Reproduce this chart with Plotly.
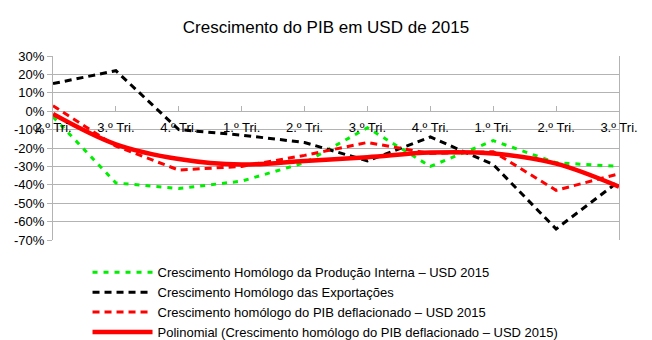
import plotly.graph_objects as go

categories = ["2.º Tri.", "3.º Tri.", "4.º Tri.", "1.º Tri.", "2.º Tri.",
              "3.º Tri.", "4.º Tri.", "1.º Tri.", "2.º Tri.", "3.º Tri."]

producao_interna = [-3, -39, -42, -38, -28, -9, -30, -16, -28, -30]
exportacoes = [15, 22, -10, -13, -17, -27, -14, -29, -64, -38]
pib_deflacionado = [3, -19, -32, -30, -24, -17, -23, -22, -43, -34]
polinomial = [-1.5, -18, -26, -29, -27, -25, -22.5, -23, -28.5, -41]

names = [
    "Crescimento Homólogo da Produção Interna – USD 2015",
    "Crescimento Homólogo das Exportações",
    "Crescimento homólogo do PIB deflacionado – USD 2015",
    "Polinomial (Crescimento homólogo do PIB deflacionado – USD 2015)",
]

y_ticks = [30, 20, 10, 0, -10, -20, -30, -40, -50, -60, -70]
y_min, y_max = -70, 30

x = list(range(len(categories)))

fig = go.Figure()
fig.add_trace(go.Scatter(x=x, y=producao_interna, mode="lines", name=names[0],
                         line=dict(color="#00ee00", width=3, dash="5px,6px")))
fig.add_trace(go.Scatter(x=x, y=exportacoes, mode="lines", name=names[1],
                         line=dict(color="#000000", width=3, dash="7px,5px")))
fig.add_trace(go.Scatter(x=x, y=pib_deflacionado, mode="lines", name=names[2],
                         line=dict(color="#ff0000", width=3, dash="7px,5px")))
fig.add_trace(go.Scatter(x=x, y=polinomial, mode="lines", name=names[3],
                         line=dict(color="#ff0000", width=4.5, shape="spline", smoothing=1)))

font = "Liberation Sans, Arial, sans-serif"
zero_pos = (0 - y_min) / (y_max - y_min)

fig.update_layout(
    width=652, height=340,
    margin=dict(l=53, r=33, t=56, b=100, autoexpand=False),
    paper_bgcolor="white", plot_bgcolor="white",
    font=dict(family=font, size=13, color="#000000"),
    title=dict(text="Crescimento do PIB em USD de 2015", x=0.5, xanchor="center",
               y=1 - 27 / 340, yanchor="middle", font=dict(size=17, family=font)),
    showlegend=True,
    legend=dict(x=0.061, y=-0.094, xanchor="left", yanchor="top",
                orientation="v", itemwidth=60, font=dict(size=13, family=font),
                tracegroupgap=0, bgcolor="rgba(0,0,0,0)"),
    xaxis=dict(
        range=[0, len(categories) - 1], tickvals=x, ticktext=categories,
        showgrid=False, zeroline=False, showline=False,
        anchor="free", position=zero_pos,
        ticks="inside", ticklen=5, tickcolor="#b3b3b3",
        ticklabelstandoff=7,
        tickfont=dict(size=13, family=font),
    ),
    yaxis=dict(
        range=[y_min, y_max], tickvals=y_ticks,
        ticktext=[f"{v}%" for v in y_ticks],
        showgrid=True, gridcolor="#b3b3b3", gridwidth=1,
        zeroline=False, showline=True, linecolor="#b3b3b3", mirror=True,
        ticks="outside", ticklen=5, tickcolor="#b3b3b3",
        tickfont=dict(size=13, family=font),
    ),
)

fig.write_html("out.html")
